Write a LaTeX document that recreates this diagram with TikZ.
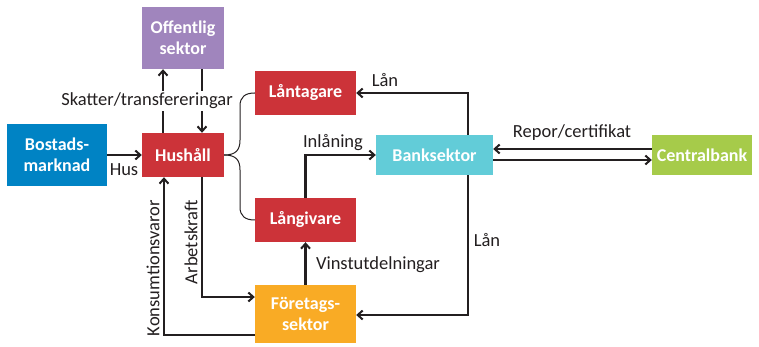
\documentclass[tikz,border=0pt]{standalone}
\usepackage{fontspec}
\setmainfont{Carlito}
\usetikzlibrary{arrows.meta}
\definecolor{cpurple}{HTML}{A085BD}
\definecolor{cblue}{HTML}{0083C4}
\definecolor{cred}{HTML}{CC3339}
\definecolor{ccyan}{HTML}{62CCD8}
\definecolor{cgreen}{HTML}{A6CB4A}
\definecolor{corange}{HTML}{F9AB25}
\definecolor{cline}{HTML}{231F20}
\begin{document}
\begin{tikzpicture}[x=1pt,y=-1pt,
  box/.style={rectangle, draw=none, text=white, font=\fontsize{18}{21}\selectfont\bfseries, align=center, inner sep=0pt},
  arr/.style={draw=cline, line width=2.4pt, -{Straight Barb[length=5pt,width=9pt,line width=2pt]}},
  brace/.style={draw=cline, line width=1pt},
  lbl/.style={font=\fontsize{18.5}{21}\selectfont, text=cline, inner sep=1pt}]
\useasboundingbox (0,0) rectangle (759,347);
\node[box, fill=cpurple, minimum width=82pt, minimum height=62pt] (off) at (183,38) {Offentlig\\sektor};
\node[box, fill=cblue, minimum width=100pt, minimum height=62pt] (bost) at (57,155) {Bostads-\\marknad};
\node[box, fill=cred, minimum width=82pt, minimum height=44pt] (hus) at (183,155) {Hushåll};
\node[box, fill=cred, minimum width=101pt, minimum height=44pt] (lant) at (305.5,93) {Låntagare};
\node[box, fill=cred, minimum width=101pt, minimum height=44pt] (lang) at (305.5,220) {Långivare};
\node[box, fill=ccyan, minimum width=117pt, minimum height=40pt] (bank) at (434.5,155) {Banksektor};
\node[box, fill=cgreen, minimum width=100pt, minimum height=40pt] (cent) at (702,155) {Centralbank};
\node[box, fill=corange, minimum width=101pt, minimum height=58pt] (fore) at (305.5,314) {Företags-\\sektor};

\draw[arr] ([xshift=-20pt]hus.north) -- ([xshift=-20pt]off.south);
\draw[arr] ([xshift=19pt]off.south) -- ([xshift=19pt]hus.north);
\draw[arr] (bost.east) -- (hus.west);
\draw[brace] (hus.east) .. controls (236,155) and (240,150) .. (240,140) -- (240,106) .. controls (240,97) and (245,93) .. (lant.west);
\draw[brace] (hus.east) .. controls (236,155) and (240,160) .. (240,170) -- (240,207) .. controls (240,216) and (245,220) .. (lang.west);
\draw[arr] ([xshift=33.5pt]bank.north) |- (lant.east);
\draw[arr] (lang.north) |- (bank.west);
\draw[arr] ([xshift=33.5pt]bank.south) |- ([yshift=-1pt]fore.east);
\draw[arr] ([yshift=6pt]cent.west) -- ([yshift=6pt]bank.west -| bank.east);
\draw[arr] ([yshift=-5pt]bank.east) -- ([yshift=-5pt]cent.east -| cent.west);
\draw[arr] (fore.north) -- (lang.south);
\draw[arr] ([xshift=19pt]hus.south) |- ([yshift=17pt]fore.west);
\draw[arr] ([yshift=-21pt]fore.west) -| ([xshift=-19pt]hus.south);

\node[lbl, fill=white, inner sep=2pt] (l1) at (147,101) {Skatter/transfereringar};
\node[lbl] (l2) at (124,170) {Hus};
\node[lbl] (l3) at (385,80) {Lån};
\node[lbl] (l4) at (333,143) {Inlåning};
\node[lbl] (l5) at (572,133) {Repor/certifikat};
\node[lbl] (l6) at (487,240) {Lån};
\node[lbl] (l7) at (378,265) {Vinstutdelningar};
\node[lbl, rotate=90] (l8) at (191,242) {Arbetskraft};
\node[lbl, rotate=90] (l9) at (153,268) {Konsumtionsvaror};
\end{tikzpicture}
\end{document}
